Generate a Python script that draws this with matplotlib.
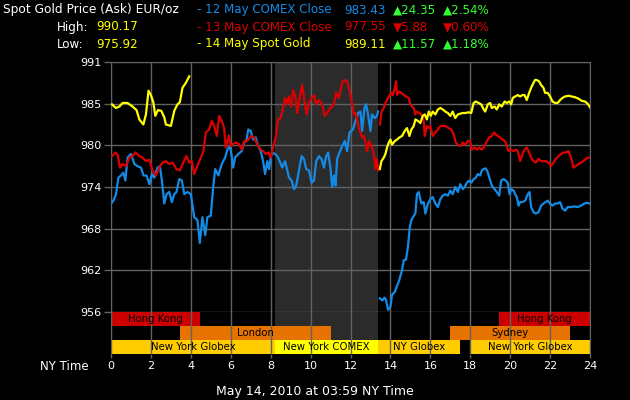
import numpy as np
import matplotlib
matplotlib.use("Agg")
import matplotlib.pyplot as plt

# ---- data (hours NY time, EUR/oz) ----
blue_h = [0.0, 0.12, 0.25, 0.37, 0.5, 0.62, 0.72, 0.83, 1.0, 1.17, 1.33, 1.5, 1.63, 1.78, 1.92,
          2.05, 2.17, 2.33, 2.45, 2.55, 2.67, 2.78, 2.92, 3.05, 3.17, 3.28, 3.42, 3.55, 3.67,
          3.83, 4.0, 4.17, 4.33, 4.45, 4.58, 4.72, 4.83, 5.0, 5.12, 5.22, 5.38, 5.55, 5.72,
          5.83, 5.95, 6.05, 6.12, 6.22, 6.38, 6.55, 6.67, 6.78, 6.88, 7.0, 7.12, 7.25, 7.37,
          7.5, 7.62, 7.72, 7.83, 7.92, 8.0, 8.08, 8.22, 8.33, 8.45, 8.58, 8.72, 8.83, 8.92,
          9.05, 9.17, 9.28, 9.42, 9.55, 9.67, 9.78, 9.92, 10.05, 10.17, 10.28, 10.42, 10.55,
          10.67, 10.78, 10.88, 11.0, 11.08, 11.17, 11.25, 11.33, 11.45, 11.58, 11.72, 11.83,
          11.95, 12.12, 12.25, 12.38, 12.5, 12.58, 12.7, 12.78, 12.88, 13.0, 13.08, 13.22,
          13.33, 13.38,
          13.4,
          13.47, 13.6, 13.7, 13.78, 13.88, 14.0, 14.08, 14.22, 14.33, 14.45, 14.58, 14.67,
          14.78, 14.88, 14.97, 15.05, 15.13, 15.25, 15.33, 15.42, 15.55, 15.67, 15.75, 15.88,
          16.0, 16.12, 16.25, 16.38, 16.5, 16.62, 16.75, 16.88, 17.0, 17.12, 17.25, 17.38,
          17.5, 17.62, 17.72, 17.83, 17.95, 18.05, 18.17, 18.28, 18.38, 18.5, 18.58, 18.67,
          18.78, 18.88, 19.0, 19.08, 19.22, 19.33, 19.45, 19.55, 19.67, 19.78, 19.88, 19.97,
          20.05, 20.17, 20.25, 20.33, 20.42, 20.5, 20.62, 20.75, 20.88, 20.97, 21.05, 21.17,
          21.28, 21.42, 21.55, 21.67, 21.78, 21.88, 22.0, 22.12, 22.25, 22.38, 22.5, 22.62,
          22.75, 22.88, 23.05, 23.22, 23.38, 23.55, 23.72, 23.83, 24.0]
blue_v = [971.5, 971.9, 972.8, 975.1, 975.4, 975.8, 974.7, 977.9, 978.4, 977.0, 976.7, 976.5, 975.4, 975.4, 974.2,
          975.6, 975.1, 976.5, 976.7, 974.7, 971.5, 972.8, 973.1, 971.7, 972.8, 973.1, 974.9, 974.7, 972.8,
          973.1, 972.8, 969.6, 969.2, 966.0, 969.6, 967.1, 969.6, 969.8, 973.8, 976.3, 975.4, 977.0, 977.9,
          979.0, 979.5, 978.1, 976.5, 977.9, 978.4, 978.8, 980.0, 980.2, 981.8, 981.6, 980.4, 980.7, 979.5,
          978.8, 977.4, 975.6, 977.4, 976.3, 977.9, 978.6, 978.4, 978.1, 977.4, 976.5, 977.4, 976.1, 975.1,
          974.7, 973.5, 974.0, 976.1, 978.1, 977.7, 976.3, 976.1, 974.4, 974.7, 977.4, 978.1, 977.7,
          976.5, 978.1, 978.6, 976.3, 973.8, 975.4, 974.0, 977.7, 978.6, 979.5, 980.2, 978.8,
          981.4, 981.8, 983.0, 984.1, 984.3, 981.6, 984.8, 985.3, 983.9, 981.6, 983.9, 983.4,
          983.7, 984.3,
          np.nan,
          958.3, 958.0, 958.4, 958.1, 956.7, 957.1, 958.8, 959.2, 960.0, 960.9, 962.2, 963.6,
          963.7, 965.5, 968.2, 969.2, 969.6, 970.1, 972.8, 973.1, 971.5, 971.7, 970.1, 971.5,
          972.1, 972.4, 971.5, 971.0, 972.1, 972.6, 972.8, 972.6, 973.3, 972.8, 973.8, 973.1,
          974.2, 973.5, 973.8, 974.4, 974.7, 974.4, 974.9, 975.1, 975.6, 975.4, 976.1, 976.3,
          976.4, 975.8, 974.7, 974.0, 973.5, 973.1, 972.6, 974.7, 974.9, 974.7, 974.4, 972.8,
          973.5, 973.3, 972.8, 972.4, 971.2, 971.7, 971.7, 971.9, 972.8, 973.1, 971.0, 970.3,
          970.1, 970.3, 971.2, 971.5, 971.7, 971.9, 971.5, 971.2, 971.5, 971.5, 971.7, 970.8,
          970.5, 971.0, 971.0, 971.1, 971.0, 971.2, 971.5, 971.6, 971.5]

red_h = [0.05, 0.22, 0.33, 0.45, 0.58, 0.75, 0.92, 1.08, 1.22, 1.42, 1.58, 1.75, 1.92, 2.08, 2.25,
         2.42, 2.58, 2.75, 2.92, 3.08, 3.28, 3.45, 3.62, 3.78, 3.92, 4.05, 4.17, 4.33, 4.5, 4.63,
         4.75, 4.92, 5.05, 5.17, 5.3, 5.42, 5.55, 5.67, 5.75, 5.83, 5.9, 6.0, 6.12, 6.25, 6.4,
         6.55, 6.67, 6.83, 7.0, 7.17, 7.33, 7.5, 7.62, 7.75, 7.88, 8.0, 8.12, 8.25, 8.37, 8.5,
         8.62, 8.72, 8.83, 8.92, 9.03, 9.13, 9.25, 9.33, 9.42, 9.58, 9.7, 9.8, 9.92, 10.05,
         10.17, 10.28, 10.42, 10.58, 10.7, 10.83, 11.0, 11.17, 11.28, 11.42, 11.5, 11.58, 11.72,
         11.83, 11.92, 12.0, 12.08, 12.17, 12.25, 12.33, 12.42, 12.5, 12.58, 12.67, 12.75, 12.83,
         12.92, 13.0, 13.08, 13.17, 13.25, 13.33, 13.38,
         13.4,
         13.47, 13.55, 13.67, 13.78, 13.92, 14.05, 14.13, 14.22, 14.28, 14.33, 14.42, 14.55,
         14.67, 14.78, 14.92, 15.0, 15.08, 15.17, 15.25, 15.33, 15.45, 15.55, 15.67, 15.72,
         15.83, 15.92, 16.0, 16.12, 16.25, 16.38, 16.5, 16.62, 16.75, 16.92, 17.05, 17.17, 17.28,
         17.38, 17.5, 17.62, 17.75, 17.88, 18.0, 18.08, 18.22, 18.33, 18.45, 18.58, 18.72, 18.83,
         18.95, 19.08, 19.2, 19.28, 19.38, 19.5, 19.62, 19.75, 19.83, 19.92, 20.05, 20.17, 20.28,
         20.38, 20.5, 20.62, 20.72, 20.83, 20.95, 21.05, 21.17, 21.28, 21.42, 21.55, 21.67, 21.78,
         21.92, 22.05, 22.17, 22.28, 22.42, 22.55, 22.67, 22.78, 22.92, 23.05, 23.17, 23.28,
         23.42, 23.55, 23.67, 23.78, 23.92, 24.0]
red_v = [978.1, 978.6, 978.3, 976.5, 977.0, 976.7, 977.9, 978.1, 978.6, 978.1, 977.9, 977.4, 977.6, 976.1, 975.4,
         976.5, 977.2, 977.4, 977.0, 977.2, 976.3, 976.1, 977.2, 978.1, 977.2, 977.4, 975.6, 976.7, 977.9, 978.8,
         981.4, 981.8, 983.0, 982.3, 980.9, 983.7, 983.0, 982.0, 979.3, 980.0, 981.0, 979.5, 979.8, 980.0, 979.8,
         979.0, 980.2, 980.2, 980.9, 980.7, 979.7, 979.0, 978.8, 978.4, 978.6, 977.9, 979.3, 980.7, 983.2, 983.4,
         984.8, 986.2, 985.3, 986.4, 985.0, 987.3, 986.2, 984.1, 985.7, 988.0, 985.7, 983.9, 985.5, 986.2,
         986.6, 985.3, 985.9, 985.3, 983.7, 984.1, 984.8, 985.3, 986.9, 986.2, 987.3, 988.3, 988.7,
         988.5, 987.6, 986.6, 985.3, 983.9, 984.1, 983.2, 982.0, 981.4, 980.7, 980.9, 980.0, 978.8,
         980.2, 979.7, 979.3, 978.4, 976.3, 977.7, 976.1,
         np.nan,
         982.5, 984.3, 984.8, 985.7, 986.4, 986.9, 986.6, 987.6, 988.5, 986.6, 987.1, 986.9,
         986.6, 986.4, 986.2, 985.3, 985.0, 984.8, 983.9, 984.3, 984.1, 983.9, 983.0, 980.9,
         982.3, 982.0, 982.3, 980.9, 981.4, 981.8, 982.3, 982.3, 982.3, 982.0, 981.8, 981.1, 980.0,
         979.7, 979.5, 980.0, 979.7, 980.2, 980.2, 979.0, 979.3, 979.0, 979.3, 979.0, 979.5, 980.2,
         980.7, 980.9, 981.4, 981.1, 980.9, 980.7, 980.4, 980.2, 979.5, 978.8, 979.0, 978.8, 979.0,
         978.8, 977.4, 978.4, 979.0, 979.3, 978.6, 977.9, 977.4, 977.2, 977.7, 977.4, 977.4, 977.4,
         977.2, 976.7, 977.2, 977.7, 978.1, 978.4, 978.6, 978.6, 978.8, 977.9, 976.5, 976.7,
         977.0, 977.2, 977.4, 977.7, 977.9, 977.9]

yellow_h = [0.05, 0.25, 0.42, 0.58, 0.83, 1.08, 1.28, 1.42, 1.62, 1.75, 1.88, 2.0, 2.12, 2.22,
            2.35, 2.52, 2.67, 2.75, 3.0, 3.17, 3.33, 3.45, 3.58, 3.75, 3.92,
            8.0,
            13.47, 13.55, 13.67, 13.75, 13.83, 13.92, 14.0, 14.08, 14.22, 14.33, 14.45, 14.58,
            14.72, 14.83, 14.95, 15.05, 15.17, 15.25, 15.38, 15.5, 15.62, 15.72, 15.83, 15.92,
            16.02, 16.12, 16.25, 16.38, 16.5, 16.62, 16.75, 16.88, 17.0, 17.12, 17.25, 17.38,
            17.5, 17.62, 17.75, 17.92, 18.05, 18.17, 18.28, 18.42, 18.55, 18.67, 18.75, 18.88,
            19.0, 19.08, 19.22, 19.33, 19.45, 19.58, 19.72, 19.83, 19.95, 20.05, 20.13, 20.25,
            20.38, 20.5, 20.62, 20.72, 20.83, 20.95, 21.05, 21.17, 21.25, 21.33, 21.45, 21.55,
            21.67, 21.75, 21.88, 22.0, 22.12, 22.25, 22.38, 22.5, 22.62, 22.75, 22.92, 23.08,
            23.25, 23.42, 23.58, 23.75, 23.88, 24.0]
yellow_v = [985.3, 984.8, 985.0, 985.5, 985.5, 985.0, 984.5, 983.2, 982.5, 983.9, 987.2, 986.6, 985.6, 983.7,
            984.5, 984.4, 983.5, 982.5, 982.3, 984.4, 985.3, 985.6, 987.6, 988.3, 989.2,
            np.nan,
            976.3, 977.4, 977.9, 978.4, 979.3, 980.0, 980.4, 979.7, 980.2, 980.4, 980.7, 980.9,
            981.6, 982.0, 980.9, 981.8, 982.3, 983.2, 983.0, 982.7, 983.7, 983.9, 983.2, 984.3,
            983.7, 984.3, 983.9, 984.6, 984.8, 984.6, 984.3, 984.1, 983.7, 984.3, 983.4, 983.9,
            984.0, 984.1, 984.1, 984.2, 984.1, 985.5, 985.7, 985.5, 985.3, 984.6, 984.3, 985.3,
            985.5, 984.8, 985.0, 984.6, 985.3, 985.0, 985.7, 985.5, 985.7, 985.3, 986.2, 986.4,
            986.6, 986.4, 986.6, 986.6, 985.9, 986.9, 987.6, 988.3, 988.7, 988.7, 988.5, 988.0,
            987.6, 986.9, 986.9, 986.4, 985.7, 985.5, 985.5, 985.9, 986.2, 986.4, 986.5, 986.4,
            986.3, 986.1, 985.8, 985.7, 985.4, 984.9]

y_tick_labels = ["956", "962", "968", "974", "980", "985", "991"]
x_ticks = list(range(0, 25, 2))

# sessions: (row, start, end, label, colour)
sessions = [
    (2, 0.0, 4.45, "Hong Kong", "#cc0000"),
    (2, 19.45, 24.0, "Hong Kong", "#cc0000"),
    (1, 3.45, 11.0, "London", "#e67300"),
    (1, 17.0, 23.0, "Sydney", "#e67300"),
    (0, 0.0, 8.22, "New York Globex", "#ffcc00"),
    (0, 8.22, 13.4, "New York COMEX", "#ffff00"),
    (0, 13.4, 17.5, "NY Globex", "#ffcc00"),
    (0, 18.0, 24.0, "New York Globex", "#ffcc00"),
]
comex = (8.22, 13.4)

BLUE = "#138be6"
RED = "#dd0000"
YEL = "#ffff00"
GRN = "#33ff33"
GRID = "#626262"

plt.rcParams["font.family"] = ["DejaVu Sans"]

fig = plt.figure(figsize=(6.3, 4.0), dpi=100, facecolor="black")
W, H = 630.0, 400.0

ax = fig.add_axes([111 / W, 1 - 312 / H, 479 / W, 250 / H], facecolor="black")
ax.set_xlim(0, 24)
ax.set_ylim(956.4, 991.2)
ax.set_axisbelow(True)
ax.axvspan(comex[0], comex[1], color="#2b2b2b", zorder=0.2, lw=0)
ax.plot(blue_h, blue_v, color=BLUE, lw=1.6, zorder=3)
ax.plot(red_h, red_v, color=RED, lw=1.6, zorder=4)
ax.plot(yellow_h, yellow_v, color=YEL, lw=1.6, zorder=5)
ax.set_yticks(np.linspace(956.4, 991.2, 7))
ax.set_yticklabels(y_tick_labels)
ax.set_xticks(x_ticks)
ax.tick_params(axis="x", length=0, labelbottom=False)
ax.tick_params(axis="y", colors=GRID, labelcolor="white", labelsize=8, length=5, width=1, pad=2)
ax.grid(True, color=GRID, lw=1.0)
for s in ax.spines.values():
    s.set_color(GRID)
ax.spines["bottom"].set_visible(False)

sax = fig.add_axes([111 / W, 1 - 354 / H, 479 / W, 42 / H], facecolor="black")
sax.set_xlim(0, 24)
sax.set_ylim(0, 3)
sax.axvspan(comex[0], comex[1], color="#2b2b2b", zorder=0.2, lw=0)
for row, a, b, lab, col in sessions:
    sax.barh(row + 0.5, b - a, left=a, height=1.0, color=col, lw=0, zorder=1)
    sax.text((a + b) / 2, row + 0.47, lab, ha="center", va="center", fontsize=7.3,
             color="black", zorder=4)
sax.set_xticks(x_ticks)
sax.set_yticks([])
sax.grid(True, axis="x", color=GRID, lw=1.0, zorder=3)
sax.set_axisbelow(False)
sax.tick_params(axis="x", colors=GRID, labelcolor="white", labelsize=8, length=3, width=1, pad=2)
for s in sax.spines.values():
    s.set_color(GRID)
sax.spines["top"].set_visible(False)
sax.spines["bottom"].set_visible(False)

# header
def ftext(x, y, s, c, ha="left", size=8.6):
    fig.text(x / W, 1 - y / H, s, color=c, fontsize=size, ha=ha, va="center")

ftext(3, 10, "Spot Gold Price (Ask) EUR/oz", "white", size=8.8)
ftext(57, 27, "High:", "white")
ftext(96, 27, "990.17", YEL)
ftext(57, 44, "Low:", "white")
ftext(96, 44, "975.92", YEL)

rows = [
    ("- 12 May COMEX Close", "983.43", "\u25b224.35", "\u25b22.54%", BLUE, BLUE, GRN),
    ("- 13 May COMEX Close", "977.55", "\u25bc5.88", "\u25bc0.60%", RED, RED, RED),
    ("- 14 May Spot Gold", "989.11", "\u25b211.57", "\u25b21.18%", YEL, YEL, GRN),
]
for i, (name, price, chg, pct, c1, c2, c3) in enumerate(rows):
    y = 10 + 17 * i
    ftext(197, y, name, c1)
    ftext(344, y, price, c2)
    ftext(393, y, chg, c3)
    ftext(443, y, pct, c3)

ftext(40, 367, "NY Time", "white", size=8.5)
ftext(315, 391, "May 14, 2010 at 03:59 NY Time", "white", ha="center", size=9)

fig.savefig("out.png", dpi=100, facecolor="black")
